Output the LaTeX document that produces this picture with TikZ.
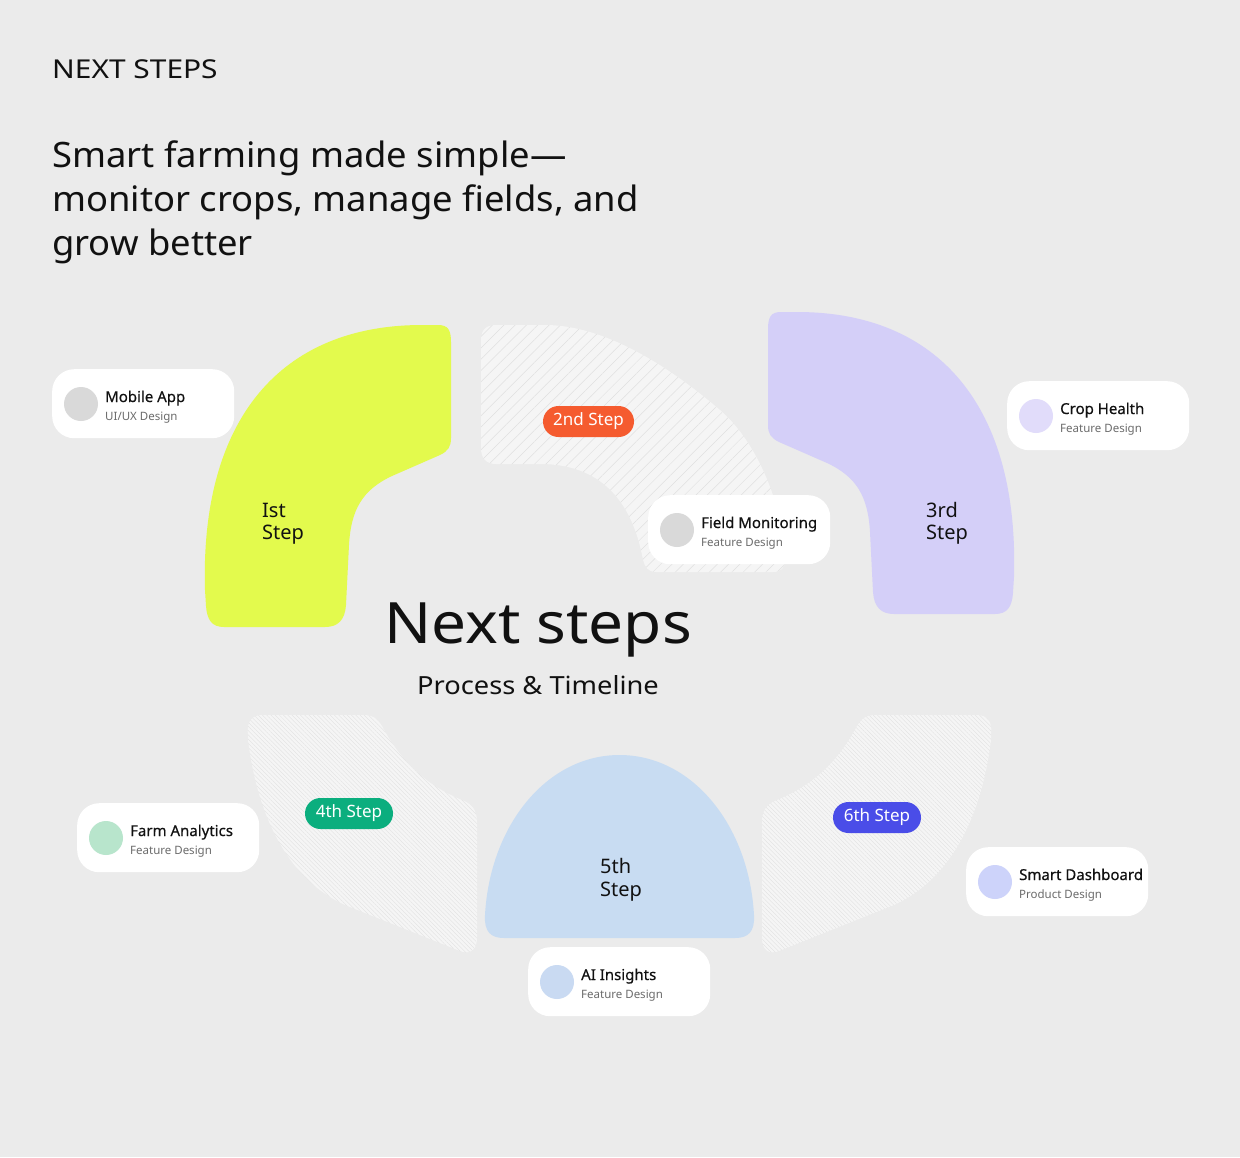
\documentclass[tikz,border=0pt]{standalone}
\usepackage{fontspec}
\setmainfont{Noto Sans}
\usetikzlibrary{patterns.meta}
\definecolor{bgc}{HTML}{EBEBEB}
\definecolor{yel}{HTML}{E3FA4D}
\definecolor{pur}{HTML}{D4CFF8}
\definecolor{blu}{HTML}{C8DCF2}
\definecolor{hfill}{HTML}{F5F5F5}
\definecolor{hline}{HTML}{E0E0E0}
\definecolor{org}{HTML}{F55B2F}
\definecolor{grn}{HTML}{0BAE7E}
\definecolor{ind}{HTML}{4A4DE8}
\definecolor{subg}{HTML}{6B6B6B}
\definecolor{ink}{HTML}{111111}
\definecolor{dotgray}{HTML}{D9D9D9}
\definecolor{dotpur}{HTML}{E1DCFA}
\definecolor{dotgrn}{HTML}{B8E5CC}
\definecolor{dotblu}{HTML}{C9DAF2}
\definecolor{dotind}{HTML}{CDD3FA}
\newcommand{\fs}[1]{\fontsize{#1}{#1}\selectfont}
\newcommand{\wide}[1]{\addfontfeature{FakeStretch=#1}}
\tikzset{
  txt/.style={inner sep=0pt, anchor=base west, text=ink},
  cardbox/.style={fill=white, rounded corners=22pt, minimum width=182pt, minimum height=69pt, inner sep=0pt, anchor=north west},
  dot/.style={circle, minimum size=34pt, inner sep=0pt},
  pill/.style={rounded corners=15.5pt, minimum height=31pt, inner sep=0pt, text=white, font=\fs{17}},
  hatchwide/.style={fill=hfill, postaction={pattern={Lines[angle=45,distance=8pt,line width=0.5pt]}, pattern color=hline}},
  hatchfine/.style={fill=hfill, postaction={pattern={Lines[angle=-45,distance=3pt,line width=0.35pt]}, pattern color=hline}},
}
\newcommand{\infocard}[5]{%
  \node[cardbox] (#1) at #2 {};
  \node[dot, fill=#3] (#1dot) at ([xshift=29pt,yshift=-35pt]#1.north west) {};
  \node[txt, font=\fs{15}\addfontfeature{FakeBold=0.4}] (#1title) at ([xshift=53pt,yshift=-33pt]#1.north west) {#4};
  \node[txt, font=\fs{11.5}, text=subg] (#1sub) at ([xshift=53pt,yshift=-51pt]#1.north west) {#5};
}
\def\stepOnePath{(205,590) .. controls (200,420) and (280,325) .. (422,325) -- (438,325) .. controls (448,325) and (451,330) .. (451,342) -- (451,438) .. controls (451,447) and (448,451) .. (440,455) -- (392,476) .. controls (362,490) and (351,510) .. (349,545) -- (346,605) .. controls (345,620) and (338,627) .. (325,627) -- (224,627) .. controls (212,627) and (207,620) .. (206,606) -- cycle}
\def\stepFourPath{(248,735) .. controls (246,722) and (252,715) .. (262,715) -- (365,715) .. controls (372,715) and (377,718) .. (382,726) .. controls (400,760) and (425,785) .. (462,800) .. controls (472,804) and (477,810) .. (477,822) -- (477,938) .. controls (477,950) and (470,955) .. (460,951) -- (345,905) .. controls (290,880) and (258,820) .. (248,740) -- cycle}
\begin{document}
\begin{tikzpicture}[x=1pt,y=-1pt]
\useasboundingbox (0,0) rectangle (1240,1157);
\fill[bgc] (0,0) rectangle (1240,1157);
% headings
\node[txt, font=\fs{26}\wide{1.15}] (kicker) at (52,78) {NEXT STEPS};
\node[txt, font=\fs{35}\wide{1.04}] (head1) at (52,167) {Smart farming made simple—};
\node[txt, font=\fs{35}\wide{1.04}] (head2) at (52,211) {monitor crops, manage fields, and};
\node[txt, font=\fs{35}\wide{1.04}] (head3) at (52,255) {grow better};
% step shapes
\fill[yel] \stepOnePath;
\begin{scope}[shift={(1219,-13)}, xscale=-1]
  \fill[pur] \stepOnePath;
\end{scope}
\path[hatchwide] (481,340) .. controls (481,330) and (486,325) .. (496,325) -- (545,325) .. controls (610,325) and (678,374) .. (720,410) .. controls (754,439) and (783,500) .. (785,560) .. controls (785,568) and (781,572) .. (773,572) -- (656,572) .. controls (648,572) and (645,567) .. (643,560) .. controls (632,500) and (600,464) .. (540,464) -- (496,464) .. controls (486,464) and (481,458) .. (481,448) -- cycle;
\path[hatchfine] \stepFourPath;
\begin{scope}[shift={(1239,0)}, xscale=-1]
  \path[hatchfine] \stepFourPath;
\end{scope}
\fill[blu] (485,915) .. controls (490,825) and (547,755) .. (619.5,755) .. controls (692,755) and (749,825) .. (754,915) .. controls (755,932) and (748,938) .. (735,938) -- (504,938) .. controls (491,938) and (484,932) .. (485,915) -- cycle;
% step labels
\node[txt, font=\fs{20}] (s1a) at (262,517) {Ist};
\node[txt, font=\fs{20}] (s1b) at (262,539) {Step};
\node[txt, font=\fs{20}] (s3a) at (926,517) {3rd};
\node[txt, font=\fs{20}] (s3b) at (926,539) {Step};
\node[txt, font=\fs{20}] (s5a) at (600,873) {5th};
\node[txt, font=\fs{20}] (s5b) at (600,896) {Step};
% pills
\node[pill, fill=org, minimum width=91pt] (p2) at (588.5,421.5) {2nd Step};
\node[pill, fill=grn, minimum width=88pt] (p4) at (349,813.5) {4th Step};
\node[pill, fill=ind, minimum width=88pt] (p6) at (877,817.5) {6th Step};
% cards
\infocard{c1}{(52,369)}{dotgray}{Mobile App}{UI/UX Design}
\infocard{c2}{(648,495)}{dotgray}{Field Monitoring}{Feature Design}
\infocard{c3}{(1007,381)}{dotpur}{Crop Health}{Feature Design}
\infocard{c4}{(77,803)}{dotgrn}{Farm Analytics}{Feature Design}
\infocard{c5}{(528,947)}{dotblu}{AI Insights}{Feature Design}
\infocard{c6}{(966,847)}{dotind}{Smart Dashboard}{Product Design}
% center title
\node[txt, anchor=base, font=\fs{57}\wide{1.09}] (main) at (538,643) {Next steps};
\node[txt, anchor=base, font=\fs{25}\wide{1.09}] (subm) at (538,694) {Process \& Timeline};
\end{tikzpicture}
\end{document}
